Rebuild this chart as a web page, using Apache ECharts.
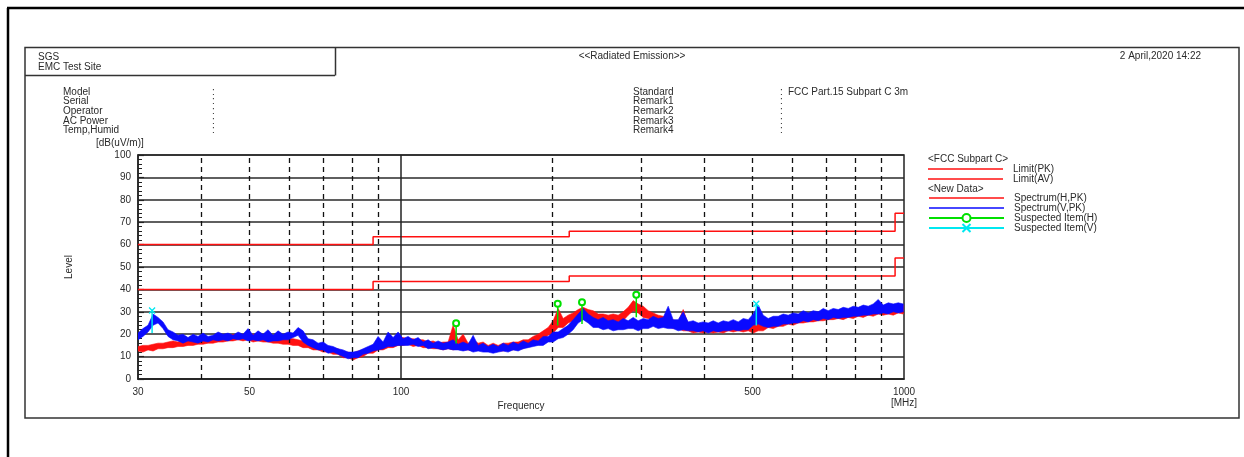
<!DOCTYPE html>
<html>
<head>
<meta charset="utf-8">
<script src="https://cdn.jsdelivr.net/npm/echarts@6/dist/echarts.min.js"></script>
<style>
  html, body { margin: 0; padding: 0; background: #fff; }
  #chart { width: 1244px; height: 457px; }
</style>
</head>
<body>
<div id="chart"></div>
<script>
// Measurement frequencies (MHz) of the sweep bins
const freqMHz = [
  30.0, 30.69, 31.41, 32.14, 32.88, 33.64, 34.42, 35.22, 36.03, 36.87,
  37.72, 38.6, 39.49, 40.4, 41.34, 42.3, 43.28, 44.28, 45.3, 46.35,
  47.43, 48.52, 49.65, 50.8, 51.97, 53.18, 54.41, 55.67, 56.96, 58.28,
  59.63, 61.01, 62.42, 63.87, 65.35, 66.86, 68.41, 69.99, 71.61, 73.27,
  74.97, 76.71, 78.49, 80.3, 82.16, 84.07, 86.01, 88.01, 90.04, 92.13,
  94.26, 96.45, 98.68, 100.96, 103.3, 105.69, 108.14, 110.65, 113.21, 115.83,
  118.52, 121.26, 124.07, 126.94, 129.88, 132.89, 135.97, 139.12, 142.34, 145.64,
  149.01, 152.46, 155.99, 159.61, 163.3, 167.08, 170.95, 174.91, 178.96, 183.11,
  187.35, 191.69, 196.13, 200.67, 205.32, 210.07, 214.94, 219.92, 225.01, 230.22,
  235.55, 241.01, 246.59, 252.3, 258.14, 264.12, 270.24, 276.5, 282.9, 289.45,
  296.16, 303.02, 310.04, 317.22, 324.56, 332.08, 339.77, 347.64, 355.69, 363.93,
  372.36, 380.98, 389.8, 398.83, 408.07, 417.52, 427.19, 437.08, 447.2, 457.56,
  468.16, 479.0, 490.09, 501.44, 513.05, 524.94, 537.09, 549.53, 562.26, 575.28,
  588.6, 602.23, 616.18, 630.45, 645.05, 659.99, 675.28, 690.91, 706.91, 723.28,
  740.03, 757.17, 774.71, 792.65, 811.0, 829.79, 849.0, 868.66, 888.78, 909.37,
  930.43, 951.97, 974.02, 996.58
];

// Horizontal polarisation, peak detector: min / max level in each bin, dB(uV/m)
const specH_low = [
  12.5, 12, 13, 12.5, 13.5, 13.5, 14, 14, 14.5, 14.5,
  15, 15, 15.5, 15.5, 16, 16, 16.5, 16.5, 17, 17,
  17.5, 17, 17.5, 16.5, 17, 16.5, 16.5, 16, 16, 15.5,
  15.5, 15, 15, 14, 14, 13, 13, 12, 12, 11,
  11, 9.5, 9.5, 8.5, 9.5, 10, 11.5, 11.5, 13, 13,
  14, 14, 15, 15, 15.5, 14.5, 15, 14, 14, 13.5,
  13.5, 13, 13.5, 13, 13.5, 13, 13, 12.5, 13, 12.5,
  12.5, 12, 12.5, 12.5, 13, 13, 13.5, 13.5, 15, 15,
  17, 17.5, 19.5, 20.5, 23, 23, 25, 26, 27.5, 28.5,
  28, 26.5, 26, 25, 25.5, 25, 25.5, 26, 28.5, 30.5,
  29.5, 27.5, 27, 25.5, 25, 24, 23.5, 22.5, 22.5, 21.5,
  21.5, 20.5, 21, 20.5, 21, 20.5, 21, 20.5, 21.5, 21,
  21.5, 21, 21.5, 20.5, 21.5, 21.5, 23, 22.5, 23.5, 23.5,
  24.5, 24, 25, 25, 25.5, 25.5, 26, 26, 26.5, 26.5,
  27, 26.5, 27.5, 27, 28, 27.5, 28.5, 28, 29, 28.5,
  29, 28.5, 29.5, 29
];
const specH_high = [
  14.5, 15, 15, 15.5, 16, 16, 16.5, 17, 16.5, 17.5,
  17.5, 18, 17.5, 18.5, 18, 19, 18.5, 19.5, 19, 20,
  19.5, 20, 19.5, 20, 19, 19.5, 18.5, 19.5, 18, 18.5,
  18, 18, 17.5, 17, 16.5, 15.5, 15.5, 14.5, 14, 13.5,
  13.5, 12, 12, 11.5, 12.5, 13, 14, 14.5, 15.5, 16,
  17, 17, 18, 18.5, 18, 18, 17.5, 17.5, 16.5, 17,
  16, 16.5, 16.5, 24, 17.5, 20, 16, 17.5, 16, 16.5,
  15, 16, 15, 16, 16, 16.5, 16.5, 17.5, 17.5, 19,
  20, 21.5, 23, 26, 31.5, 27, 28.5, 29.5, 31, 32,
  31, 30.5, 29, 29, 28.5, 29, 28.5, 30, 32, 35,
  33.5, 32.5, 30.5, 29.5, 28.5, 28, 27, 26.5, 25.5, 31,
  24.5, 24.5, 24, 24.5, 24.5, 24, 24.5, 24.5, 25, 24.5,
  25, 25.5, 25, 24.5, 25.5, 26, 26, 26.5, 27.5, 27,
  28, 27.5, 28.5, 28.5, 29, 29, 29.5, 29.5, 30, 30,
  30.5, 30, 31, 30.5, 31.5, 31, 32, 31.5, 32, 32.5,
  32, 32.5, 32.5, 33
];

// Vertical polarisation, peak detector: min / max level in each bin, dB(uV/m)
const specV_low = [
  17.5, 19, 21, 24, 25, 22.5, 19, 17.5, 17, 16,
  17, 16.5, 16, 17, 16.5, 17.5, 17, 17.5, 17, 18,
  17.5, 18, 17, 17.5, 17, 17.5, 16.5, 17, 17, 17.5,
  17.5, 18.5, 19.5, 16.5, 15, 14, 13, 13, 11.5, 12,
  11, 10, 9, 9.5, 9.5, 11, 11.5, 12.5, 13, 13.5,
  14.5, 14.5, 15, 15, 15, 15.5, 14.5, 15, 13.5, 14,
  13.5, 13, 13.5, 13, 13, 12.5, 13, 12, 12.5, 12,
  12, 11.5, 12, 12.5, 12, 13, 12.5, 13.5, 14, 14.5,
  15, 15, 16.5, 16.5, 18, 18.5, 20, 22, 25, 26.5,
  25, 23, 23, 22, 22.5, 21.5, 22, 22, 22.5, 22.5,
  21.5, 22.5, 22.5, 23.5, 22.5, 23, 22.5, 22.5, 21.5, 22,
  21.5, 21.5, 21, 21.5, 20.5, 21.5, 21, 21.5, 21.5, 22,
  21.5, 22, 22, 24, 24.5, 23.5, 23, 23.5, 23.5, 24.5,
  24.5, 25, 25, 26, 25.5, 26.5, 26, 27, 26.5, 27.5,
  27, 27.5, 27.5, 28, 28, 28.5, 28.5, 29, 29, 29.5,
  29, 30, 29.5, 30
];
const specV_high = [
  20.5, 22.5, 24, 29, 27.5, 25.5, 22, 21, 19.5, 20,
  18.5, 20, 19, 20.5, 19, 19.5, 21, 20, 20.5, 19.5,
  21, 20, 22.5, 19.5, 21.5, 20, 22, 19.5, 21.5, 20,
  21, 20.5, 23, 21.5, 18, 17.5, 16, 16.5, 15, 14.5,
  13.5, 13, 12, 12, 12.5, 13.5, 14.5, 15.5, 19, 16.5,
  21, 18.5, 21, 18, 19, 17.5, 18.5, 16.5, 17.5, 16,
  17, 16, 16.5, 17.5, 15.5, 16.5, 15.5, 19.5, 15, 16,
  14.5, 15.5, 14.5, 16, 15, 16.5, 15.5, 17, 16, 17.5,
  17, 19, 19, 21, 21, 22.5, 24, 26.5, 29, 31.5,
  29, 27.5, 26.5, 27.5, 26, 26.5, 25.5, 27, 26, 27.5,
  26, 27, 26.5, 28, 27, 27.5, 32.5, 26.5, 26.5, 30,
  25.5, 26, 25, 25.5, 25, 26, 25, 26, 25.5, 26.5,
  25.5, 27, 26.5, 29, 33, 28.5, 27, 28, 28, 29,
  28.5, 29.5, 29, 30.5, 29.5, 30.5, 30, 31.5, 30.5, 31.5,
  31, 32, 31.5, 32.5, 32, 33, 32.5, 33.5, 35.5, 33,
  34, 33.5, 34, 33.5
];

// FCC Part 15 Subpart C (3 m) limits: band edges (MHz) and levels
const limitEdgesMHz = [30, 88, 216, 960, 1000];
const limitPK = [60, 63.5, 66, 74];
const limitAV = [40, 43.5, 46, 54];

// Suspected items: frequency, level at the marker, level at the stem foot
const suspH_freq = [128.7, 204.9, 229.0, 293.6];
const suspH_level = [24.9, 33.6, 34.3, 37.6];
const suspH_base = [15.8, 23.9, 24.6, 27.6];
const suspV_freq = [32.0, 508.6];
const suspV_level = [30.6, 33.6];
const suspV_base = [20.5, 23.9];

// Axis ticks and grid lines
const xTickLabels = [30, 50, 100, 500, 1000];
const xDashedGrid = [40, 50, 60, 70, 80, 90, 200, 300, 400, 500, 600, 700, 800, 900];
const xSolidGrid = [100];

const FONT = '"Liberation Sans", Arial, sans-serif';
const TXT = '#2a2a2a';
const RED = '#ff1010';
const BLUE = '#0a0aff';
const GREEN = '#00e000';
const CYAN = '#00e8f0';
const LINE_ICON = 'path://M0,0L75,0L75,1.6L0,1.6Z';

// min/max envelope of a sweep, filled between the two traces
function bandSeries(name, lo, hi, color, z) {
  return {
    name: name, type: 'custom', z: z, silent: true, clip: true,
    itemStyle: { color: color },
    data: [[freqMHz[0], lo[0]]],
    encode: { x: 0, y: 1 },
    renderItem: function (params, api) {
      if (params.dataIndex !== 0) return;
      const n = Math.min(freqMHz.length, lo.length, hi.length);
      const upper = [], lower = [];
      for (let i = 0; i < n; i++) {
        upper.push(api.coord([freqMHz[i], hi[i]]));
        lower.push(api.coord([freqMHz[i], lo[i]]));
      }
      return {
        type: 'polygon',
        shape: { points: upper.concat(lower.reverse()) },
        style: { fill: color, stroke: color, lineWidth: 0.6 }
      };
    }
  };
}
function stepLimit(levels) {
  const out = [];
  for (let i = 0; i < levels.length; i++) {
    out.push([limitEdgesMHz[i], levels[i]], [limitEdgesMHz[i + 1], levels[i]]);
  }
  return out;
}

const series = [];
// vertical grid lines
series.push({
  name: 'grid', type: 'line', data: [], z: 1, silent: true,
  markLine: {
    silent: true, symbol: ['none', 'none'], label: { show: false },
    animation: false,
    data: xDashedGrid.map(v => ({ xAxis: v, lineStyle: { color: '#111', width: 1.3, type: [5, 4] } }))
      .concat(xSolidGrid.map(v => ({ xAxis: v, lineStyle: { color: '#222', width: 1.5, type: 'solid' } })))
  }
});
series.push({
  name: 'Limit(PK)', type: 'line', data: stepLimit(limitPK), symbol: 'none', showSymbol: false,
  lineStyle: { color: RED, width: 1.5 }, itemStyle: { color: RED }, z: 3
});
series.push({
  name: 'Limit(AV)', type: 'line', data: stepLimit(limitAV), symbol: 'none', showSymbol: false,
  lineStyle: { color: RED, width: 1.5 }, itemStyle: { color: RED }, z: 3
});
series.push(bandSeries('Spectrum(H,PK)', specH_low, specH_high, RED, 4));
series.push(bandSeries('Spectrum(V,PK)', specV_low, specV_high, BLUE, 5));
suspH_freq.forEach((f, i) => {
  series.push({
    name: 'Suspected Item(H)', type: 'line', symbol: 'emptyCircle', symbolSize: 6, showSymbol: true, z: 6,
    lineStyle: { color: GREEN, width: 1.5 }, itemStyle: { color: GREEN, borderWidth: 1.3 },
    data: [{ value: [f, suspH_level[i]] }, { value: [f, suspH_base[i]], symbol: 'none' }]
  });
});
suspV_freq.forEach((f, i) => {
  series.push({
    name: 'Suspected Item(V)', type: 'line', symbol: 'path://M0,0L10,10M10,0L0,10', symbolSize: 6, showSymbol: true, z: 6,
    lineStyle: { color: CYAN, width: 1.5 }, itemStyle: { color: CYAN, borderColor: CYAN, borderWidth: 1.3 },
    data: [{ value: [f, suspV_level[i]] }, { value: [f, suspV_base[i]], symbol: 'none' }]
  });
});

function txt(x, y, text, align) {
  return { type: 'text', x: x, y: y, silent: true,
    style: { text: text, fill: TXT, font: '10px ' + FONT, align: align || 'left', verticalAlign: 'middle' } };
}
function ln(x1, y1, x2, y2, w, c) {
  return { type: 'line', silent: true, shape: { x1, y1, x2, y2 }, style: { stroke: c || '#111', lineWidth: w || 1 } };
}

const infoLeft = ['Model', 'Serial', 'Operator', 'AC Power', 'Temp,Humid'];
const infoRight = ['Standard', 'Remark1', 'Remark2', 'Remark3', 'Remark4'];
const graphics = [
  ln(7, 8, 1244, 8, 2.5, '#000'),
  ln(8, 8, 8, 457, 2.5, '#000'),
  { type: 'rect', silent: true, shape: { x: 25, y: 47.5, width: 1214, height: 370.5 }, style: { fill: 'none', stroke: '#333', lineWidth: 1.5 } },
  ln(25, 75.5, 335, 75.5, 1.5, '#333'),
  ln(335.5, 47.5, 335.5, 75.5, 1.5, '#333'),
  txt(38, 57, 'SGS'), txt(38, 67, 'EMC Test Site'),
  txt(632, 56, '<<Radiated Emission>>', 'center'),
  txt(1201, 56, '2 April,2020 14:22', 'right'),
  txt(788, 92, 'FCC Part.15 Subpart C 3m'),
  txt(96, 143, '[dB(uV/m)]'),
  txt(891, 403, '[MHz]'),
  txt(928, 159, '<FCC Subpart C>'),
  txt(928, 189, '<New Data>')
];
infoLeft.forEach((s, i) => { graphics.push(txt(63, 92 + i * 9.6, s)); graphics.push(txt(212, 92 + i * 9.6, ':')); });
infoRight.forEach((s, i) => { graphics.push(txt(633, 92 + i * 9.6, s)); graphics.push(txt(780, 92 + i * 9.6, ':')); });

const legendBase = {
  orient: 'vertical', left: 928, padding: 0, itemWidth: 75, itemHeight: 10, itemGap: 0,
  selectedMode: false,
  textStyle: { fontFamily: FONT, fontSize: 10, color: TXT, lineHeight: 7, padding: [3, 0, 0, 5] }
};

const option = {
  animation: false,
  backgroundColor: '#fff',
  textStyle: { fontFamily: FONT },
  grid: { left: 138, right: 340, top: 155, bottom: 78, show: true, borderColor: '#222', borderWidth: 1.5, containLabel: false },
  xAxis: {
    type: 'log', logBase: 10, min: 30, max: 1000,
    name: 'Frequency', nameLocation: 'middle', nameGap: 22,
    nameTextStyle: { fontSize: 10, color: TXT, fontFamily: FONT },
    axisLine: { show: true, lineStyle: { color: '#222', width: 1.5 } },
    axisTick: { show: false },
    minorTick: { show: false },
    splitLine: { show: false },
    axisLabel: { customValues: xTickLabels, fontSize: 10, color: TXT, margin: 8, fontFamily: FONT,
      formatter: function (v) { return String(Math.round(v)); },
      showMinLabel: true, showMaxLabel: true, hideOverlap: false }
  },
  yAxis: {
    type: 'value', min: 0, max: 100, interval: 10,
    name: 'Level', nameLocation: 'middle', nameGap: 64, nameRotate: 90,
    nameTextStyle: { fontSize: 10, color: TXT, fontFamily: FONT },
    axisLine: { show: true, lineStyle: { color: '#222', width: 1.5 } },
    axisTick: { show: true, inside: true, length: 6, lineStyle: { color: '#222', width: 1.2 } },
    minorTick: { show: true, splitNumber: 5, length: 4, lineStyle: { color: '#222', width: 1 } },
    splitLine: { show: true, lineStyle: { color: '#2a2a2a', width: 1.5 } },
    axisLabel: { fontSize: 10, color: TXT, margin: 7, fontFamily: FONT }
  },
  legend: [
    Object.assign({}, legendBase, { top: 164, data: [
      { name: 'Limit(PK)', icon: LINE_ICON }, { name: 'Limit(AV)', icon: LINE_ICON }] }),
    Object.assign({}, legendBase, { top: 193, data: [
      { name: 'Spectrum(H,PK)', icon: LINE_ICON }, { name: 'Spectrum(V,PK)', icon: LINE_ICON },
      'Suspected Item(H)', 'Suspected Item(V)'] })
  ],
  graphic: graphics,
  series: series
};

const chart = echarts.init(document.getElementById('chart'), null, { renderer: 'canvas' });
chart.setOption(option);
</script>
</body>
</html>
